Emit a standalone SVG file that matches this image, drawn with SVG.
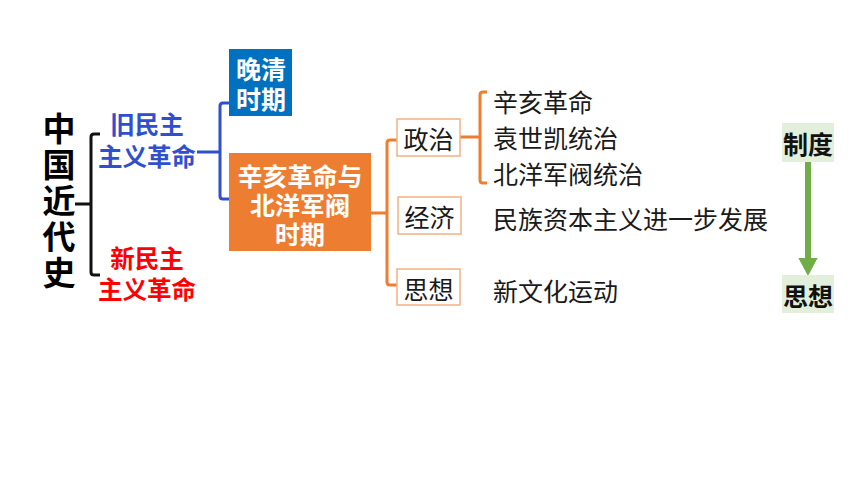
<svg xmlns="http://www.w3.org/2000/svg" width="860" height="484" viewBox="0 0 860 484">
<style>
text{font-family:"Noto Sans CJK SC","Liberation Sans",sans-serif;dominant-baseline:central}
.b{font-weight:bold}
.w{fill:#fff;font-weight:bold;font-size:25px;text-anchor:middle}
.n{font-size:25px;fill:#1a1a1a}
.cat{fill:#fff;stroke:#F4B183;stroke-width:1.5}
.g{fill:#E2EFDA}
.gt{font-size:25px;font-weight:bold;fill:#111;text-anchor:middle}
</style>
<defs>
<marker id="ga" markerWidth="3" markerHeight="3.2" refX="0.5" refY="1.6" orient="auto" markerUnits="strokeWidth" viewBox="0 0 3 3.2"><path d="M0,0 L3,1.6 L0,3.2 z" fill="#70AD47"/></marker>
</defs>
<rect width="860" height="484" fill="#fff"/>
<g id="connectors" fill="none" stroke-linejoin="round">
<path d="M75,204 H91 M100,134 H94 Q91,134 91,137 V272 Q91,275 94,275 H100" stroke="#111" stroke-width="3"/>
<path d="M197,152 H220 M229,103 H223 Q220,103 220,106 V196 Q220,199 223,199 H229" stroke="#2F4FCE" stroke-width="3"/>
<path d="M371,213 H387 M397,140 H390 Q387,140 387,143 V282 Q387,285 390,285 H397" stroke="#ED7D31" stroke-width="3"/>
<path d="M460,137 H480 M487,92 H483 Q480,92 480,95 V180 Q480,183 483,183 H487" stroke="#ED7D31" stroke-width="3"/>
<line x1="808" y1="162" x2="808" y2="261" stroke="#70AD47" stroke-width="6" marker-end="url(#ga)"/>
</g>
<g id="root">
<text class="b" x="59" y="112" font-size="33" fill="#000" style="writing-mode:vertical-rl;letter-spacing:3px">中国近代史</text>
</g>
<g id="old">
<text class="b" font-size="24.5" text-anchor="middle" fill="#2F4FCE"><tspan x="147" y="123">旧民主</tspan><tspan x="147" y="155">主义革命</tspan></text>
</g>
<g id="new">
<text class="b" font-size="24.5" text-anchor="middle" fill="#FF0000"><tspan x="147" y="257">新民主</tspan><tspan x="147" y="288">主义革命</tspan></text>
</g>
<g id="lateqing">
<rect x="229" y="49" width="63" height="67" fill="#0070C0"/>
<text class="w"><tspan x="261" y="68">晚清</tspan><tspan x="261" y="98">时期</tspan></text>
</g>
<g id="xinhai">
<rect x="229" y="153" width="142" height="98" fill="#ED7D31"/>
<text class="w"><tspan x="300" y="175">辛亥革命与</tspan><tspan x="300" y="204">北洋军阀</tspan><tspan x="300" y="233">时期</tspan></text>
</g>
<g id="politics">
<rect class="cat" x="397" y="119" width="63" height="37"/>
<text class="n" x="428.5" y="138" text-anchor="middle">政治</text>
</g>
<g id="economy">
<rect class="cat" x="398" y="197" width="63" height="37"/>
<text class="n" x="429.5" y="216" text-anchor="middle">经济</text>
</g>
<g id="thought">
<rect class="cat" x="397" y="269" width="63" height="36"/>
<text class="n" x="428.5" y="288" text-anchor="middle">思想</text>
</g>
<g id="items">
<text class="n" x="493" y="101">辛亥革命</text>
<text class="n" x="493" y="137">袁世凯统治</text>
<text class="n" x="493" y="173">北洋军阀统治</text>
<text class="n" x="493" y="218">民族资本主义进一步发展</text>
<text class="n" x="493" y="290">新文化运动</text>
</g>
<g id="system">
<rect class="g" x="782" y="123" width="52" height="39"/>
<text class="gt" x="808" y="143">制度</text>
</g>
<g id="thought2">
<rect class="g" x="782" y="275" width="52" height="38"/>
<text class="gt" x="808" y="295">思想</text>
</g>
</svg>
